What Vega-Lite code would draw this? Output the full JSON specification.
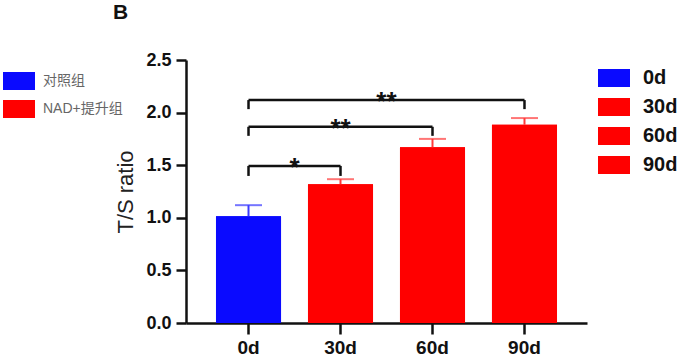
{
  "$schema": "https://vega.github.io/schema/vega-lite/v6.json",
  "autosize": "none",
  "width": 401,
  "height": 263,
  "padding": {"left": 186, "top": 60, "right": 96, "bottom": 36},
  "background": "white",
  "title": {"text": "B", "anchor": "start", "frame": "group", "dx": -73, "offset": 7, "baseline": "bottom", "fontSize": 21, "fontWeight": "bold", "font": "Liberation Sans", "color": "#111"},
  "datasets": {
    "bars": [
      {"day": "0d", "group": "对照组", "value": 1.015, "upper": 1.12},
      {"day": "30d", "group": "NAD+提升组", "value": 1.32, "upper": 1.367},
      {"day": "60d", "group": "NAD+提升组", "value": 1.671, "upper": 1.75},
      {"day": "90d", "group": "NAD+提升组", "value": 1.884, "upper": 1.948}
    ],
    "brackets": [
      {"from": "0d", "to": "30d", "y": 1.493},
      {"from": "0d", "to": "60d", "y": 1.865},
      {"from": "0d", "to": "90d", "y": 2.119}
    ],
    "bracketTicks": [
      {"day": "0d", "y": 1.493, "yb": 1.398},
      {"day": "30d", "y": 1.493, "yb": 1.398},
      {"day": "0d", "y": 1.865, "yb": 1.779},
      {"day": "60d", "y": 1.865, "yb": 1.779},
      {"day": "0d", "y": 2.119, "yb": 2.033},
      {"day": "90d", "y": 2.119, "yb": 2.033}
    ],
    "starsGap": [
      {"day": "30d", "y": 1.493, "label": "*"},
      {"day": "60d", "y": 2.119, "label": "**"}
    ],
    "starsCenter": [
      {"day": "30d", "y": 1.865, "label": "**"}
    ]
  },
  "layer": [
    {
      "data": {"name": "bars"},
      "mark": {"type": "bar"},
      "encoding": {
        "x": {"field": "day", "type": "nominal", "sort": ["0d", "30d", "60d", "90d"], "scale": {"domain": ["0d", "30d", "60d", "90d"], "paddingInner": 0.293, "paddingOuter": 0.326}, "axis": {"title": null, "labelAngle": 0, "tickSize": 11, "labelPadding": 4, "labelFontSize": 19}},
        "y": {"field": "value", "type": "quantitative", "scale": {"domain": [0, 2.5], "nice": false, "zero": true}, "axis": {"title": "T/S ratio", "values": [0, 0.5, 1, 1.5, 2, 2.5], "format": ".1f", "tickSize": 10, "labelPadding": 5, "labelFontSize": 18, "titleFontSize": 22, "titleFontWeight": "normal", "titleColor": "#222", "titlePadding": 8}},
        "color": {"field": "group", "type": "nominal", "sort": ["对照组", "NAD+提升组"], "scale": {"domain": ["对照组", "NAD+提升组"], "range": ["#0a0aff", "#ff0000"]}, "legend": {"title": null, "orient": "none", "legendX": -183, "legendY": 5, "padding": 0, "symbolType": "M-1,-0.5625L1,-0.5625L1,0.5625L-1,0.5625Z", "symbolSize": 1024, "symbolStrokeWidth": 0, "symbolOpacity": 1, "labelOffset": 8, "rowPadding": 3, "labelFontSize": 14, "labelFont": "Liberation Sans, Noto Sans CJK SC", "labelColor": "#666", "labelFontWeight": "normal"}}
      }
    },
    {
      "data": {"name": "bars"},
      "mark": {"type": "bar"},
      "encoding": {
        "x": {"field": "day", "type": "nominal", "sort": ["0d", "30d", "60d", "90d"], "scale": {"domain": ["0d", "30d", "60d", "90d"], "paddingInner": 0.293, "paddingOuter": 0.326}, "axis": {"title": null, "labelAngle": 0, "tickSize": 11, "labelPadding": 4, "labelFontSize": 19}},
        "y": {"field": "value", "type": "quantitative"},
        "color": {"field": "day", "type": "nominal", "sort": ["0d", "30d", "60d", "90d"], "scale": {"domain": ["0d", "30d", "60d", "90d"], "range": ["#0a0aff", "#ff0000", "#ff0000", "#ff0000"]}, "legend": {"title": null, "orient": "none", "legendX": 412, "legendY": 2, "padding": 0, "symbolType": "M-1,-0.5625L1,-0.5625L1,0.5625L-1,0.5625Z", "symbolSize": 1024, "symbolStrokeWidth": 0, "symbolOpacity": 1, "labelOffset": 13, "rowPadding": 3, "labelFontSize": 20, "labelFont": "Liberation Sans", "labelColor": "#111", "labelFontWeight": "bold"}}
      }
    },
    {
      "data": {"name": "bars"},
      "mark": {"type": "rule", "strokeWidth": 2},
      "encoding": {
        "x": {"field": "day", "type": "nominal"},
        "y": {"field": "value", "type": "quantitative"},
        "y2": {"field": "upper"},
        "color": {"condition": {"test": "datum.day === '0d'", "value": "#3a3aff"}, "value": "#ff3a3a"}
      }
    },
    {
      "data": {"name": "bars"},
      "mark": {"type": "tick", "size": 27, "thickness": 2},
      "encoding": {
        "x": {"field": "day", "type": "nominal"},
        "y": {"field": "upper", "type": "quantitative"},
        "color": {"condition": {"test": "datum.day === '0d'", "value": "#3a3aff"}, "value": "#ff3a3a"}
      }
    },
    {
      "data": {"name": "brackets"},
      "mark": {"type": "rule", "strokeWidth": 2.5, "color": "#111"},
      "encoding": {
        "x": {"field": "from", "type": "nominal"},
        "x2": {"field": "to"},
        "y": {"field": "y", "type": "quantitative"}
      }
    },
    {
      "data": {"name": "bracketTicks"},
      "mark": {"type": "rule", "strokeWidth": 2.5, "color": "#111"},
      "encoding": {
        "x": {"field": "day", "type": "nominal"},
        "y": {"field": "y", "type": "quantitative"},
        "y2": {"field": "yb"}
      }
    },
    {
      "data": {"name": "starsGap"},
      "mark": {"type": "text", "fontSize": 26, "fontWeight": "bold", "font": "Liberation Sans", "color": "#111", "baseline": "alphabetic", "dy": 10},
      "encoding": {
        "x": {"field": "day", "type": "nominal", "bandPosition": -0.2077},
        "y": {"field": "y", "type": "quantitative"},
        "text": {"field": "label"}
      }
    },
    {
      "data": {"name": "starsCenter"},
      "mark": {"type": "text", "fontSize": 26, "fontWeight": "bold", "font": "Liberation Sans", "color": "#111", "baseline": "alphabetic", "dy": 10},
      "encoding": {
        "x": {"field": "day", "type": "nominal", "bandPosition": 0.5},
        "y": {"field": "y", "type": "quantitative"},
        "text": {"field": "label"}
      }
    }
  ],
  "resolve": {"scale": {"color": "independent"}, "legend": {"color": "independent"}},
  "config": {
    "view": {"stroke": null},
    "axis": {"grid": false, "domainColor": "#111", "domainWidth": 2.5, "tickColor": "#111", "tickWidth": 2.5, "labelColor": "#111", "labelFont": "Liberation Sans", "labelFontWeight": "bold", "titleFont": "Liberation Sans"}
  }
}
